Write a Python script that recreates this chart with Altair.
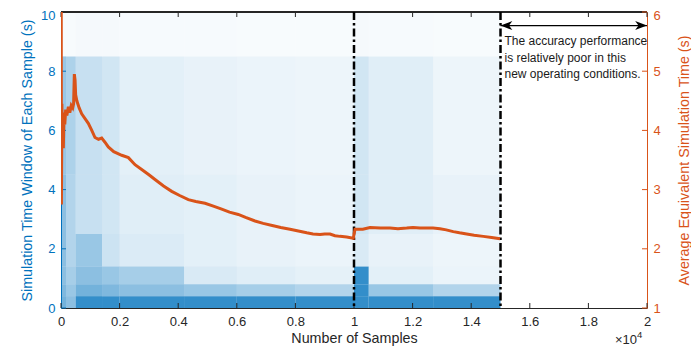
import altair as alt
import pandas as pd

# ---------------- data ----------------
# x positions (number of samples) where the blue stem texture changes character
seg_edges = [0, 170, 500, 1400, 2000, 4200, 6000, 8000, 10000, 10500, 12700, 15000]
# discrete simulation-time-window levels (s)
levels = [0, 0.4, 0.8, 1.4, 2.5, 4.5, 8.5, 10]
# share (density) of stems reaching each band, per segment (7 bands per segment)
band_share = [
    [0.55, 0.50, 0.45, 0.45, 0.45, 0.40, 0.03],
    [0.45, 0.40, 0.35, 0.30, 0.30, 0.32, 0.03],
    [0.80, 0.55, 0.45, 0.40, 0.22, 0.22, 0.04],
    [0.80, 0.50, 0.40, 0.20, 0.18, 0.18, 0.04],
    [0.80, 0.45, 0.35, 0.14, 0.12, 0.11, 0.035],
    [0.80, 0.40, 0.15, 0.11, 0.11, 0.09, 0.035],
    [0.80, 0.35, 0.12, 0.09, 0.09, 0.08, 0.03],
    [0.80, 0.30, 0.10, 0.08, 0.08, 0.07, 0.03],
    [0.80, 0.80, 0.80, 0.15, 0.18, 0.18, 0.04],
    [0.80, 0.40, 0.11, 0.09, 0.12, 0.12, 0.035],
    [0.80, 0.30, 0.08, 0.07, 0.09, 0.07, 0.03],
]

# average equivalent simulation time (s)
avg_samples = [0, 15, 30, 45, 60, 80, 100, 130, 160, 200, 250, 300, 350, 400, 430, 455, 480,
               500, 540, 620, 706, 820, 932, 1050, 1160, 1280, 1389, 1500, 1614, 1800, 2072,
               2300, 2526, 2754, 3000, 3208, 3500, 3778, 4050, 4345, 4600, 4915, 5200, 5485,
               5750, 6051, 6300, 6621, 6900, 7246, 7500, 7816, 8100, 8386, 8600, 8840, 9000,
               9181, 9350, 9522, 9750, 9976, 10034, 10300, 10546, 10900, 11229, 11500, 11799,
               12014, 12250, 12481, 12700, 12935, 13150, 13389, 13600, 13846, 14100, 14413,
               14700, 14983]
avg_values = [10, 2.75, 4.45, 3.75, 4.3, 3.7, 4.2, 4.1, 4.35, 4.25, 4.4, 4.3, 4.42, 4.38, 4.45,
              4.95, 4.85, 4.6, 4.5, 4.38, 4.28, 4.2, 4.12, 4.0, 3.88, 3.85, 3.87, 3.8, 3.72,
              3.64, 3.58, 3.54, 3.42, 3.34, 3.25, 3.17, 3.06, 2.97, 2.9, 2.83, 2.8, 2.77, 2.72,
              2.67, 2.62, 2.58, 2.53, 2.47, 2.43, 2.39, 2.36, 2.33, 2.3, 2.27, 2.25, 2.24, 2.25,
              2.25, 2.22, 2.21, 2.2, 2.18, 2.33, 2.33, 2.36, 2.35, 2.35, 2.34, 2.35, 2.36, 2.35,
              2.35, 2.35, 2.34, 2.32, 2.29, 2.27, 2.25, 2.23, 2.21, 2.19, 2.17]

x_ticks = [0, 2000, 4000, 6000, 8000, 10000, 12000, 14000, 16000, 18000, 20000]
left_ticks = [0, 2, 4, 6, 8, 10]
right_ticks = [1, 2, 3, 4, 5, 6]
boundaries = [10000, 15000]
arrow_span = [15000, 20000]
arrow_level = 5.77
note_lines = "The accuracy performance\nis relatively poor in this\nnew operating conditions."
note_level = 5.59

# ---------------- style ----------------
W, H = 586, 296
BLUE = "#0072BD"
ORANGE = "#D95319"
DARK = "#262626"
FONT = "Liberation Sans"

rows = []
for i in range(len(seg_edges) - 1):
    for k in range(len(levels) - 1):
        rows.append({"x0": seg_edges[i], "x1": seg_edges[i + 1],
                     "y0": levels[k], "y1": levels[k + 1], "share": band_share[i][k]})
band_df = pd.DataFrame(rows)
avg_df = pd.DataFrame({"s": avg_samples, "v": avg_values})

xs = alt.Scale(domain=[0, 20000], nice=False, zero=False)
yl = alt.Scale(domain=[0, 10], nice=False)
yr = alt.Scale(domain=[1, 6], nice=False, zero=False)

X_TITLE = "Number of Samples"
YL_TITLE = "Simulation Time Window of Each Sample (s)"
YR_TITLE = "Average Equivalent Simulation Time (s)"

x_axis = alt.Axis(values=x_ticks, ticks=False, grid=False,
                  labelExpr="format(datum.value/10000, '~g')",
                  domainColor=DARK, labelColor=DARK, titleColor=DARK,
                  labelFontSize=13, titleFontSize=14.3, titleFontWeight="normal",
                  labelFont=FONT, titleFont=FONT, labelPadding=7, titlePadding=3,
                  labelFlush=False)
yl_axis = alt.Axis(values=left_ticks, ticks=False, grid=False,
                   domainColor=BLUE, labelColor=BLUE, titleColor=BLUE,
                   labelFontSize=13, titleFontSize=14.3, titleFontWeight="normal",
                   labelFont=FONT, titleFont=FONT, labelPadding=6, titlePadding=6,
                   labelOffset={"condition": {"test": "datum.value === 10", "value": 3},
                                "value": 0},
                   labelFlush=False)
yr_axis = alt.Axis(orient="right", values=right_ticks, ticks=False, grid=False,
                   domainColor=ORANGE, labelColor=ORANGE, titleColor=ORANGE,
                   labelFontSize=13, titleFontSize=14.3, titleFontWeight="normal",
                   labelFont=FONT, titleFont=FONT, labelPadding=6, titlePadding=17,
                   labelOffset={"condition": {"test": "datum.value === 6", "value": 3},
                                "value": 0},
                   titleAngle=270, titleBaseline="top", labelFlush=False)


def X(field):
    return alt.X(field, scale=xs, axis=x_axis, title=X_TITLE)


def YL(field):
    return alt.Y(field, scale=yl, axis=yl_axis, title=YL_TITLE)


def YR(field):
    return alt.Y(field, scale=yr, axis=yr_axis, title=YR_TITLE)


rects = alt.Chart(band_df).mark_rect(color=BLUE, strokeWidth=0).encode(
    x=X("x0:Q"), x2="x1:Q", y=YL("y0:Q"), y2="y1:Q",
    opacity=alt.Opacity("share:Q", scale=None),
)

dash = alt.Chart(pd.DataFrame({"b": boundaries})).mark_rule(
    color="black", strokeWidth=2.5, strokeDash=[8, 3, 2.5, 3]).encode(x=X("b:Q"))

tick_df = pd.DataFrame({"t": x_ticks})
bottom_ticks = alt.Chart(tick_df).mark_rule(color=DARK, strokeWidth=1).encode(
    x=X("t:Q"), y=alt.value(H), y2=alt.value(H - 5))
top_ticks = alt.Chart(tick_df).mark_rule(color=DARK, strokeWidth=1).encode(
    x=X("t:Q"), y=alt.value(0), y2=alt.value(5))
top_border = alt.Chart(tick_df).mark_rule(color=DARK, strokeWidth=1).encode(
    x=alt.value(0), x2=alt.value(W), y=alt.value(0))
lt = alt.Chart(pd.DataFrame({"t": left_ticks})).mark_rule(color=BLUE).encode(
    y=YL("t:Q"), x=alt.value(0), x2=alt.value(5))

blue_layer = alt.layer(rects, lt, bottom_ticks, top_ticks, top_border, dash)

line = alt.Chart(avg_df).mark_line(color=ORANGE, strokeWidth=3, clip=True).encode(
    x=X("s:Q"), y=YR("v:Q"))
rt = alt.Chart(pd.DataFrame({"t": right_ticks})).mark_rule(color=ORANGE).encode(
    y=YR("t:Q"), x=alt.value(W), x2=alt.value(W - 5))

arrow_df = pd.DataFrame({"a": [arrow_span[0]], "b": [arrow_span[1]], "y": [arrow_level]})
arrow = alt.Chart(arrow_df).mark_rule(color="black", strokeWidth=1.3).encode(
    x=X("a:Q"), x2="b:Q", y=YR("y:Q"))
head_l = alt.Chart(arrow_df).mark_point(
    shape="M 0 0 L 1 -0.38 L 0.72 0 L 1 0.38 Z", size=560, filled=True,
    color="black", opacity=1, strokeWidth=0).encode(x=X("a:Q"), y=YR("y:Q"))
head_r = alt.Chart(arrow_df).mark_point(
    shape="M 0 0 L -1 -0.38 L -0.72 0 L -1 0.38 Z", size=560, filled=True,
    color="black", opacity=1, strokeWidth=0).encode(x=X("b:Q"), y=YR("y:Q"))

note_df = pd.DataFrame({"x": [arrow_span[0]], "y": [note_level], "t": [note_lines]})
note = alt.Chart(note_df).mark_text(
    align="left", baseline="top", fontSize=12, lineHeight=16.5, lineBreak="\n",
    font=FONT, color="#1a1a1a", dx=4).encode(x=X("x:Q"), y=YR("y:Q"), text="t:N")

exp_df = pd.DataFrame({"x": [20000], "base": ["\u00d710"], "e": ["4"]})
exp_base = alt.Chart(exp_df).mark_text(
    align="right", baseline="alphabetic", fontSize=13, font=FONT, color=DARK, dx=-10).encode(
    x=X("x:Q"), y=alt.value(H + 36), text="base:N")
exp_pow = alt.Chart(exp_df).mark_text(
    align="left", baseline="alphabetic", fontSize=9.5, font=FONT, color=DARK, dx=-10).encode(
    x=X("x:Q"), y=alt.value(H + 30), text="e:N")

orange_layer = alt.layer(line, rt, arrow, head_l, head_r, note, exp_base, exp_pow)

chart = alt.layer(blue_layer, orange_layer).resolve_scale(y="independent").properties(
    width=W, height=H,
    autosize=alt.AutoSizeParams(type="none"),
    padding={"left": 53, "top": 4, "right": 44, "bottom": 38},
).configure_view(stroke=None).configure(background="white")

chart.save("out.html", embed_options={"renderer": "svg", "actions": False})
